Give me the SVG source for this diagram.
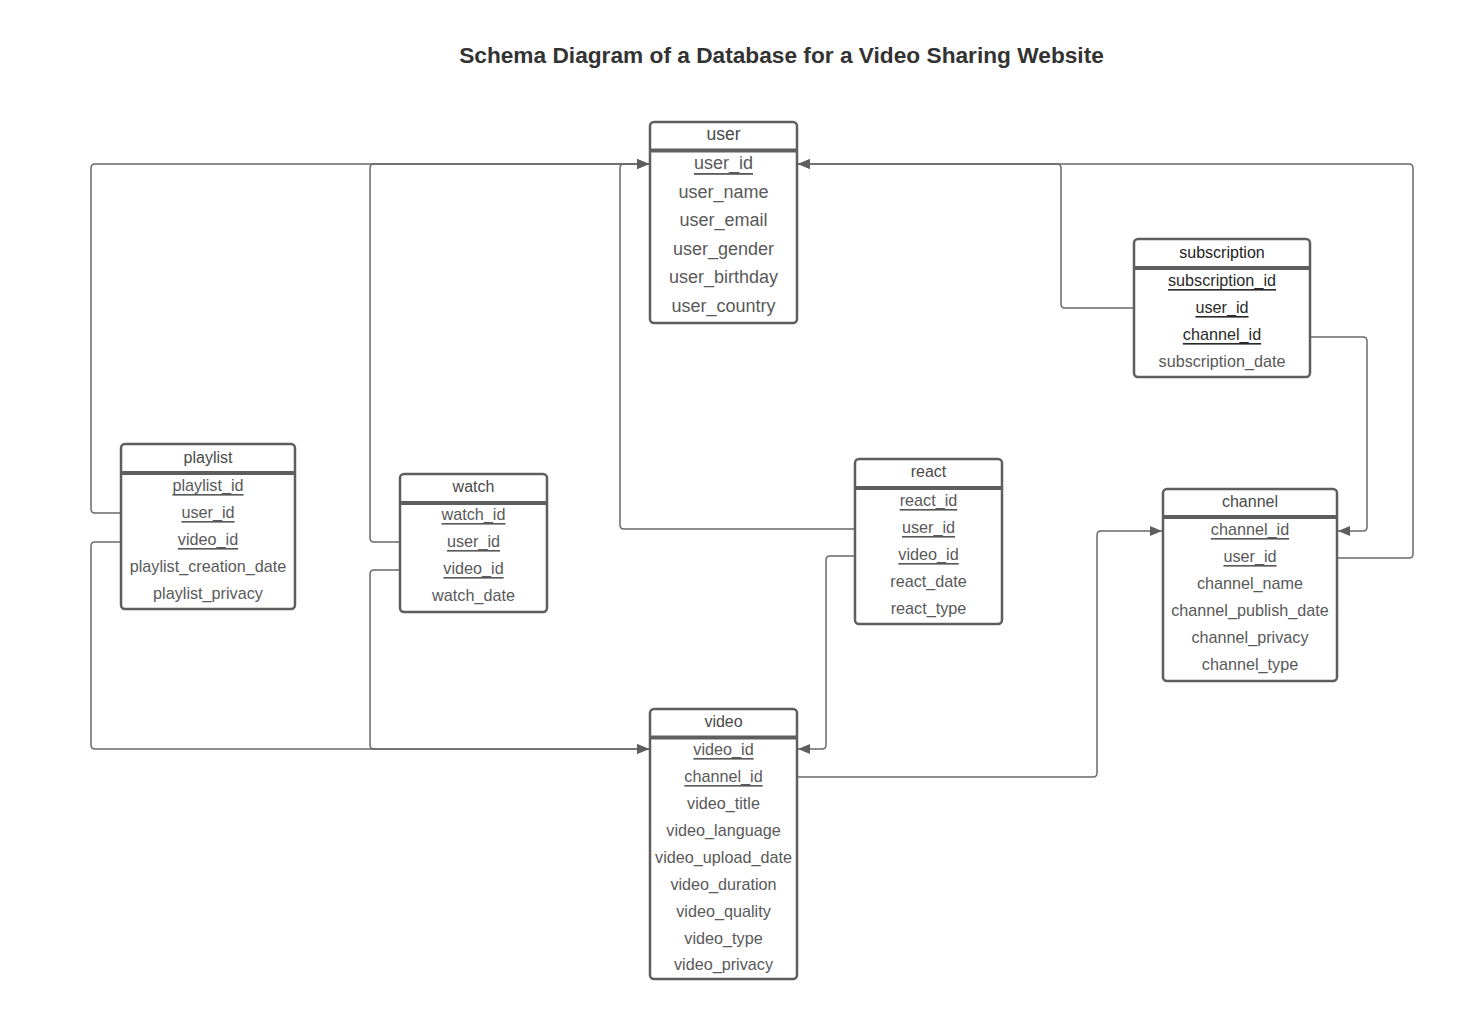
<svg xmlns="http://www.w3.org/2000/svg" width="1462" height="1036" viewBox="0 0 1462 1036">
<style>
.bg{fill:#ffffff}
.title{font-family:"Liberation Sans",Arial,sans-serif;font-size:22.7px;font-weight:bold;fill:#333333;text-anchor:middle}
.box{fill:#ffffff;stroke:#5e5e5e;stroke-width:2.5}
.sep{stroke:#5e5e5e;stroke-width:4}
.hd{font-family:"Liberation Sans",Arial,sans-serif;font-size:16px;fill:#4a4a4a;text-anchor:middle;dominant-baseline:central}
.f{font-family:"Liberation Sans",Arial,sans-serif;font-size:16.2px;fill:#595959;text-anchor:middle;dominant-baseline:central}
.big{font-size:18px}
.k{text-decoration:underline;text-decoration-thickness:2px}
.kd{fill:#2a2a2a}
.c{fill:none;stroke:#6a6a6a;stroke-width:1.5;stroke-linejoin:round}
</style>
<defs>
<marker id="arr" viewBox="0 0 12 10" refX="12" refY="5" markerWidth="12" markerHeight="10" markerUnits="userSpaceOnUse" orient="auto">
<path d="M0,0 L12,5 L0,10 Z" fill="#5e5e5e"/>
</marker>
</defs>
<rect class="bg" x="0" y="0" width="1462" height="1036"/>
<text class="title" x="781.5" y="63">Schema Diagram of a Database for a Video Sharing Website</text>

<g id="connectors">
<path class="c" d="M121,513 L95,513 Q91,513 91,509 L91,168 Q91,164 95,164 L649,164" marker-end="url(#arr)"/>
<path class="c" d="M400,542 L374,542 Q370,542 370,538 L370,168 Q370,164 374,164 L649,164" marker-end="url(#arr)"/>
<path class="c" d="M855,529 L624,529 Q620,529 620,525 L620,168 Q620,164 624,164 L649,164" marker-end="url(#arr)"/>
<path class="c" d="M121,542 L95,542 Q91,542 91,546 L91,745 Q91,749 95,749 L649,749" marker-end="url(#arr)"/>
<path class="c" d="M400,570 L374,570 Q370,570 370,574 L370,745 Q370,749 374,749 L649,749" marker-end="url(#arr)"/>
<path class="c" d="M855,556 L830,556 Q826,556 826,560 L826,745 Q826,749 822,749 L798,749" marker-end="url(#arr)"/>
<path class="c" d="M797,777 L1093,777 Q1097,777 1097,773 L1097,535 Q1097,531 1101,531 L1162,531" marker-end="url(#arr)"/>
<path class="c" d="M1134,308 L1065,308 Q1061,308 1061,304 L1061,168 Q1061,164 1057,164 L798,164" marker-end="url(#arr)"/>
<path class="c" d="M1310,337 L1363,337 Q1367,337 1367,341 L1367,527 Q1367,531 1363,531 L1338,531" marker-end="url(#arr)"/>
<path class="c" d="M1337,558 L1409,558 Q1413,558 1413,554 L1413,168 Q1413,164 1409,164 L798,164" marker-end="url(#arr)"/>
</g>

<g id="user">
<rect class="box" x="650" y="122" width="147" height="201" rx="4"/>
<line class="sep" x1="650" y1="150.5" x2="797" y2="150.5"/>
<text class="hd" x="723.5" y="134" style="font-size:17.5px">user</text>
<text class="f big k" x="723.5" y="163">user_id</text>
<text class="f big" x="723.5" y="191.5">user_name</text>
<text class="f big" x="723.5" y="220">user_email</text>
<text class="f big" x="723.5" y="248.5">user_gender</text>
<text class="f big" x="723.5" y="277">user_birthday</text>
<text class="f big" x="723.5" y="306">user_country</text>
</g>

<g id="subscription">
<rect class="box" x="1134" y="239" width="176" height="138" rx="4"/>
<line class="sep" x1="1134" y1="268" x2="1310" y2="268"/>
<text class="hd" x="1222" y="252" style="fill:#222">subscription</text>
<text class="f k kd" x="1222" y="280">subscription_id</text>
<text class="f k kd" x="1222" y="307">user_id</text>
<text class="f k kd" x="1222" y="334">channel_id</text>
<text class="f" x="1222" y="361">subscription_date</text>
</g>

<g id="playlist">
<rect class="box" x="121" y="444" width="174" height="165" rx="4"/>
<line class="sep" x1="121" y1="473" x2="295" y2="473"/>
<text class="hd" x="208" y="457">playlist</text>
<text class="f k" x="208" y="485">playlist_id</text>
<text class="f k" x="208" y="512">user_id</text>
<text class="f k" x="208" y="539">video_id</text>
<text class="f" x="208" y="566">playlist_creation_date</text>
<text class="f" x="208" y="593">playlist_privacy</text>
</g>

<g id="watch">
<rect class="box" x="400" y="474" width="147" height="138" rx="4"/>
<line class="sep" x1="400" y1="503" x2="547" y2="503"/>
<text class="hd" x="473.5" y="486">watch</text>
<text class="f k" x="473.5" y="514">watch_id</text>
<text class="f k" x="473.5" y="541">user_id</text>
<text class="f k" x="473.5" y="568">video_id</text>
<text class="f" x="473.5" y="595">watch_date</text>
</g>

<g id="react">
<rect class="box" x="855" y="459" width="147" height="165" rx="4"/>
<line class="sep" x1="855" y1="488" x2="1002" y2="488"/>
<text class="hd" x="928.5" y="471">react</text>
<text class="f k" x="928.5" y="500">react_id</text>
<text class="f k" x="928.5" y="527">user_id</text>
<text class="f k" x="928.5" y="554">video_id</text>
<text class="f" x="928.5" y="581">react_date</text>
<text class="f" x="928.5" y="608">react_type</text>
</g>

<g id="channel">
<rect class="box" x="1163" y="489" width="174" height="192" rx="4"/>
<line class="sep" x1="1163" y1="517" x2="1337" y2="517"/>
<text class="hd" x="1250" y="501">channel</text>
<text class="f k" x="1250" y="529">channel_id</text>
<text class="f k" x="1250" y="556">user_id</text>
<text class="f" x="1250" y="583">channel_name</text>
<text class="f" x="1250" y="610">channel_publish_date</text>
<text class="f" x="1250" y="637">channel_privacy</text>
<text class="f" x="1250" y="664">channel_type</text>
</g>

<g id="video">
<rect class="box" x="650" y="709" width="147" height="270" rx="4"/>
<line class="sep" x1="650" y1="737.5" x2="797" y2="737.5"/>
<text class="hd" x="723.5" y="721">video</text>
<text class="f k" x="723.5" y="749">video_id</text>
<text class="f k" x="723.5" y="776">channel_id</text>
<text class="f" x="723.5" y="803">video_title</text>
<text class="f" x="723.5" y="830">video_language</text>
<text class="f" x="723.5" y="857">video_upload_date</text>
<text class="f" x="723.5" y="884">video_duration</text>
<text class="f" x="723.5" y="911">video_quality</text>
<text class="f" x="723.5" y="938">video_type</text>
<text class="f" x="723.5" y="964">video_privacy</text>
</g>
</svg>
